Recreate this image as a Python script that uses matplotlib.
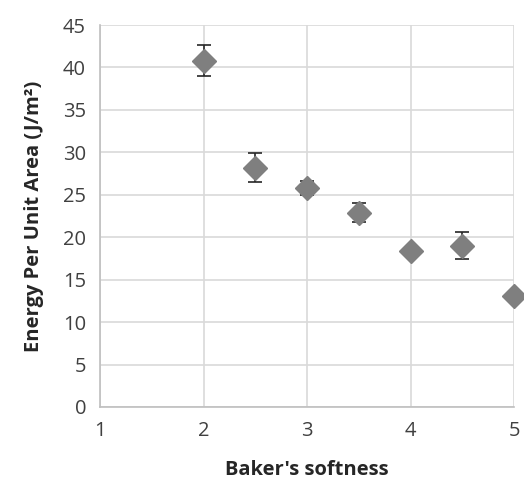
import matplotlib
matplotlib.use("Agg")
import matplotlib.pyplot as plt

softness = [2, 2.5, 3, 3.5, 4, 4.5, 5]
energy = [40.8, 28.2, 25.8, 22.9, 18.4, 19.0, 13.1]
err = [1.8, 1.7, 0.8, 1.1, 0.4, 1.6, 0.4]
xticks = [1, 2, 3, 4, 5]
yticks = list(range(0, 50, 5))

plt.rcParams['font.family'] = ['Open Sans', 'DejaVu Sans']
fig = plt.figure(figsize=(5.24, 4.93), dpi=100)
ax = fig.add_axes([100/524, 1-407/493, 414/524, 382/493])
ax.set_xlim(1, 5)
ax.set_ylim(0, 45)
ax.set_xticks(xticks)
ax.set_yticks(yticks)
ax.grid(True, color='#d9d9d9', linewidth=1.2)
ax.set_axisbelow(True)
for s in ['top', 'right']:
    ax.spines[s].set_visible(False)
for s in ['left', 'bottom']:
    ax.spines[s].set_color('#bfbfbf')
    ax.spines[s].set_linewidth(1.2)
ax.tick_params(length=0, labelsize=14.5, colors='#404040', pad=10)
ax.errorbar(softness, energy, yerr=err, fmt='D', color='#7f7f7f', markersize=12,
            ecolor='#262626', elinewidth=1.2, capsize=5, capthick=1.2, clip_on=False, zorder=3)
ax.set_xlabel("Baker's softness", fontsize=14.5, fontweight='bold', color='#262626', labelpad=14)
ax.set_ylabel("Energy Per Unit Area (J/m²)", fontsize=14.5, fontweight='bold', color='#262626', labelpad=14)
fig.savefig('out.png', dpi=100)
